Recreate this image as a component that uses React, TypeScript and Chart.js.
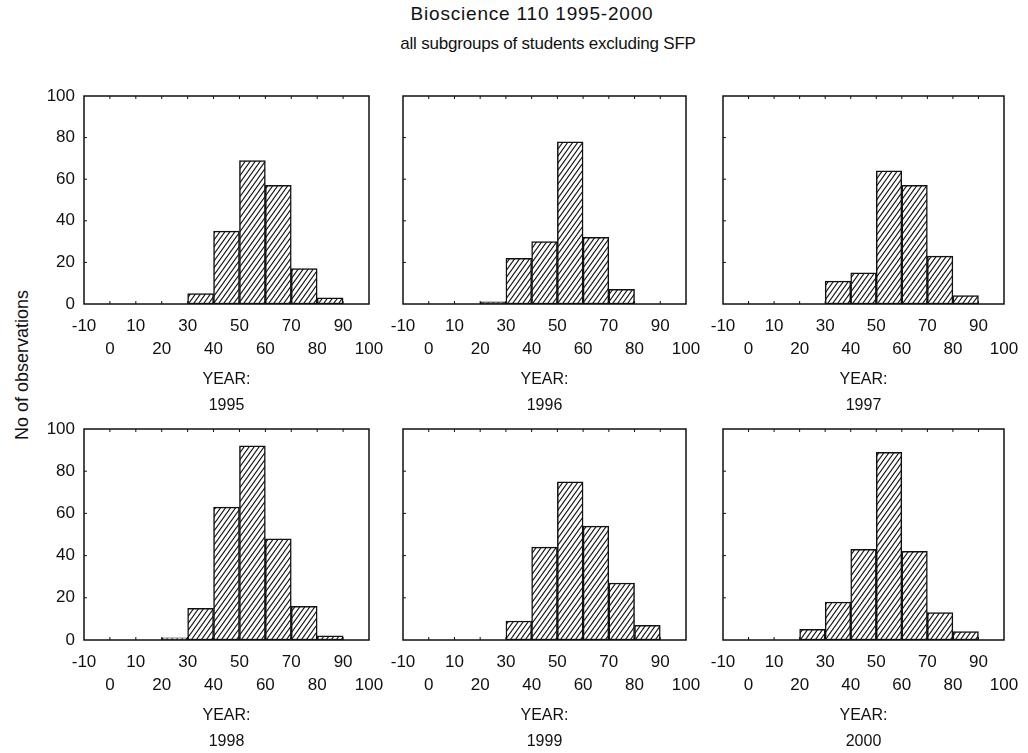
import React, { useEffect, useRef } from 'react';
import { Chart, registerables } from 'chart.js';
Chart.register(...registerables);

// ---- data ----
const binCenters = [-5, 5, 15, 25, 35, 45, 55, 65, 75, 85, 95];
const years = ['1995', '1996', '1997', '1998', '1999', '2000'];
const counts1995 = [0, 0, 0, 0, 5, 35, 69, 57, 17, 3, 0];
const counts1996 = [0, 0, 0, 1, 22, 30, 78, 32, 7, 0, 0];
const counts1997 = [0, 0, 0, 0, 11, 15, 64, 57, 23, 4, 0];
const counts1998 = [0, 0, 0, 1, 15, 63, 92, 48, 16, 2, 0];
const counts1999 = [0, 0, 0, 0, 9, 44, 75, 54, 27, 7, 0];
const counts2000 = [0, 0, 0, 5, 18, 43, 89, 42, 13, 4, 0];
const allCounts = [counts1995, counts1996, counts1997, counts1998, counts1999, counts2000];

const xMin = -10;
const xMax = 100;
const xStep = 10;
const yMin = 0;
const yMax = 100;
const yStep = 20;
const innerXTicks = [0, 10, 20, 30, 40, 50, 60, 70, 80, 90];
const innerYTicks = [20, 40, 60, 80];

const titleLine1 = 'Bioscience 110 1995-2000';
const titleLine2 = 'all subgroups of students excluding SFP';
const yAxisTitle = 'No of observations';
const yearPrefix = 'YEAR:';

// ---- layout ----
const colL = [84, 403, 723];
const colR = [369, 686, 1004];
const rowT = [96, 429];
const rowB = [304, 640];

const FONT = "'Liberation Sans', Arial, Helvetica, sans-serif";
const INK = '#111';

let hatch: CanvasPattern | null = null;
function getHatch(): CanvasPattern {
  if (hatch) return hatch;
  const w = 5, h = 7;
  const c = document.createElement('canvas');
  c.width = w;
  c.height = h;
  const g = c.getContext('2d')!;
  g.fillStyle = '#fff';
  g.fillRect(0, 0, w, h);
  g.strokeStyle = '#111';
  g.lineWidth = 1.1;
  for (const dx of [-w, 0, w]) {
    g.beginPath();
    g.moveTo(dx - w * 0.5, h * 1.5);
    g.lineTo(dx + w * 1.5, -h * 0.5);
    g.stroke();
  }
  hatch = g.createPattern(c, 'repeat')!;
  return hatch;
}

const framePlugin = {
  id: 'frame',
  afterDraw(chart: any) {
    const { ctx, chartArea: a, scales } = chart;
    ctx.save();
    ctx.strokeStyle = INK;
    ctx.lineWidth = 1.5;
    ctx.strokeRect(a.left, a.top, a.right - a.left, a.bottom - a.top);
    ctx.lineWidth = 1;
    ctx.beginPath();
    for (const v of innerXTicks) {
      const px = scales.x.getPixelForValue(v);
      ctx.moveTo(px, a.top);
      ctx.lineTo(px, a.top + 3);
      ctx.moveTo(px, a.bottom);
      ctx.lineTo(px, a.bottom - 3);
    }
    for (const v of innerYTicks) {
      const py = scales.y.getPixelForValue(v);
      ctx.moveTo(a.left, py);
      ctx.lineTo(a.left + 3, py);
    }
    ctx.stroke();
    ctx.restore();
  },
};

const PAD_L = 50;
const Y_W = 40;
const PAD_T = 10;
const PAD_R = 22;
const X_H = 115;
const PAD_B = 117;

function Panel({ idx }: { idx: number }) {
  const ref = useRef<HTMLCanvasElement>(null);
  const col = idx % 3;
  const row = Math.floor(idx / 3);
  const L = colL[col], R = colR[col], T = rowT[row], B = rowB[row];
  const width = R - L + PAD_L + PAD_R;
  const height = B - T + PAD_T + PAD_B;

  useEffect(() => {
    const counts = allCounts[idx];
    const chart = new Chart(ref.current!, {
      type: 'bar',
      data: {
        datasets: [
          {
            data: binCenters.map((x, i) => ({ x, y: counts[i] })),
            backgroundColor: getHatch(),
            borderColor: INK,
            borderWidth: 1.5,
            borderSkipped: false,
            barPercentage: 1,
            categoryPercentage: 1,
          },
        ],
      },
      options: {
        animation: false,
        responsive: false,
        devicePixelRatio: 1,
        layout: {
          padding: { left: PAD_L - Y_W, top: PAD_T, right: PAD_R, bottom: PAD_B - X_H },
        },
        plugins: { legend: { display: false }, tooltip: { enabled: false } },
        scales: {
          x: {
            type: 'linear',
            min: xMin,
            max: xMax,
            offset: false,
            grid: { display: false, drawTicks: false, offset: false },
            border: { display: false },
            ticks: {
              stepSize: xStep,
              autoSkip: false,
              maxRotation: 0,
              minRotation: 0,
              padding: 11,
              color: INK,
              font: { family: FONT, size: 17, lineHeight: 1.35 },
              callback: (v: any) => {
                const n = Number(v);
                const odd = Math.abs(Math.round(n / 10)) % 2 === 1;
                return odd ? [String(n)] : ['', String(n)];
              },
            },
            title: {
              display: true,
              text: [yearPrefix, years[idx]],
              color: INK,
              padding: { top: 0, bottom: 0 },
              font: { family: FONT, size: 16, lineHeight: 1.625 },
            },
            afterFit: (s: any) => {
              s.height = X_H;
              s.paddingLeft = 0;
              s.paddingRight = 0;
            },
          },
          y: {
            min: yMin,
            max: yMax,
            grid: { display: false, drawTicks: false },
            border: { display: false },
            ticks: {
              display: col === 0,
              stepSize: yStep,
              padding: 9,
              color: INK,
              font: { family: FONT, size: 17 },
            },
            afterFit: (s: any) => {
              s.width = Y_W;
              s.paddingTop = 0;
              s.paddingBottom = 0;
            },
          },
        },
      } as any,
      plugins: [framePlugin],
    });
    return () => chart.destroy();
  }, [idx]);

  return (
    <canvas
      ref={ref}
      width={width}
      height={height}
      style={{ position: 'absolute', left: L - PAD_L, top: T - PAD_T, width, height }}
    />
  );
}

export default function App() {
  return (
    <div
      style={{
        position: 'absolute',
        left: 0,
        top: 0,
        width: 1028,
        height: 753,
        background: '#fff',
        overflow: 'hidden',
        fontFamily: FONT,
        color: INK,
      }}
    >
      <div
        style={{
          position: 'absolute',
          left: 332,
          width: 400,
          top: 1,
          textAlign: 'center',
          fontSize: 19,
          lineHeight: '26px',
          letterSpacing: '0.8px',
          whiteSpace: 'nowrap',
        }}
      >
        {titleLine1}
      </div>
      <div
        style={{
          position: 'absolute',
          left: 348,
          width: 400,
          top: 31,
          textAlign: 'center',
          fontSize: 17,
          lineHeight: '26px',
          letterSpacing: '-0.2px',
          whiteSpace: 'nowrap',
        }}
      >
        {titleLine2}
      </div>
      <div
        style={{
          position: 'absolute',
          left: 22 - 100,
          top: 365 - 12,
          width: 200,
          height: 24,
          lineHeight: '24px',
          textAlign: 'center',
          fontSize: 18,
          whiteSpace: 'nowrap',
          transform: 'rotate(-90deg)',
        }}
      >
        {yAxisTitle}
      </div>
      {years.map((_, i) => (
        <Panel key={i} idx={i} />
      ))}
    </div>
  );
}
